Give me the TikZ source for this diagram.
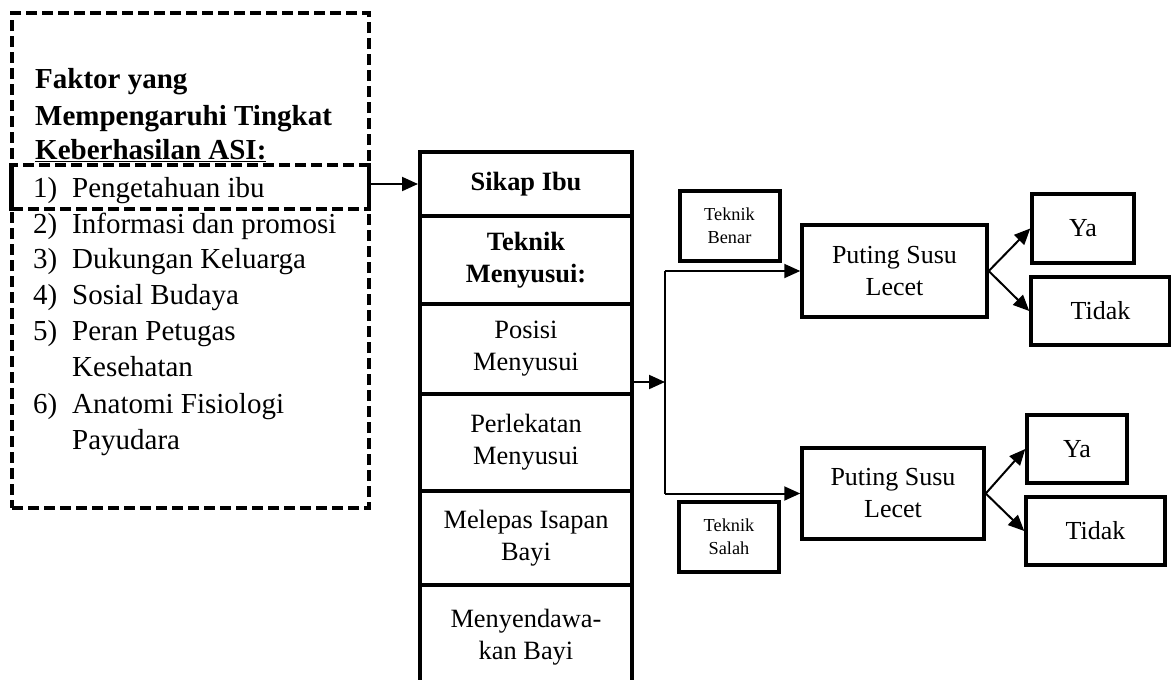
\documentclass[tikz,border=0pt]{standalone}
\usepackage{fontspec}
\setmainfont{Liberation Serif}
\usetikzlibrary{arrows.meta}
\begin{document}
\begin{tikzpicture}[x=1pt,y=-1pt,
  lt/.style={anchor=base west, inner sep=0pt, font=\fontsize{29}{36}\selectfont},
  ltb/.style={anchor=base west, inner sep=0pt, font=\fontsize{29}{36}\selectfont\bfseries},
  colbox/.style={draw, line width=4pt, minimum width=212pt, inner sep=0pt, align=center, font=\fontsize{26.4}{32}\selectfont},
  colboxb/.style={colbox, font=\fontsize{26.4}{32}\selectfont\bfseries},
  coltext/.style={inner sep=0pt, align=center, font=\fontsize{26.4}{32}\selectfont},
  rbox/.style={draw, line width=3.5pt, inner sep=0pt, align=center, font=\fontsize{26}{32}\selectfont},
  sbox/.style={draw, line width=4pt, inner sep=0pt, align=center, font=\fontsize{18.3}{23}\selectfont, minimum width=100pt, minimum height=70pt},
  dashbox/.style={draw, line width=3.5pt, dash pattern=on 11pt off 5pt},
  arr/.style={line width=2pt, -{Triangle[length=16pt,width=14pt]}},
  ln/.style={line width=2pt}
]
\useasboundingbox (0,0) rectangle (1171,680);
\clip (0,0) rectangle (1171,680);
\fill[white] (0,0) rectangle (1171,680);

% left dashed box
\node[dashbox, minimum width=357pt, minimum height=495pt, inner sep=0pt] (faktor) at (190.5,260.5) {};
\node[dashbox, minimum width=357pt, minimum height=44pt, inner sep=0pt] (pengetahuan) at (190.5,187) {};
\draw[line width=3.5pt] (pengetahuan.north west) -- (pengetahuan.south west);

\node[ltb] (h1) at (35,88) {Faktor yang};
\node[ltb] (h2) at (35,125) {Mempengaruhi Tingkat};
\node[ltb] (h3) at (35,159) {\underline{Keberhasilan ASI:}};

\node[lt] (n1) at (33,197) {1)}; \node[lt] (t1) at (72,197) {Pengetahuan ibu};
\node[lt] (n2) at (33,233) {2)}; \node[lt] (t2) at (72,233) {Informasi dan promosi};
\node[lt] (n3) at (33,268) {3)}; \node[lt] (t3) at (72,268) {Dukungan Keluarga};
\node[lt] (n4) at (33,304) {4)}; \node[lt] (t4) at (72,304) {Sosial Budaya};
\node[lt] (n5) at (33,340) {5)}; \node[lt] (t5) at (72,340) {Peran Petugas};
\node[lt] (t5b) at (72,376) {Kesehatan};
\node[lt] (n6) at (33,413) {6)}; \node[lt] (t6) at (72,413) {Anatomi Fisiologi};
\node[lt] (t6b) at (72,449) {Payudara};

% central column
\node[colboxb, minimum height=64pt] (sikap) at (526,184) {Sikap Ibu};
\node[colboxb, minimum height=88pt] (teknik) at (526,260) {Teknik\\Menyusui:};
\node[colbox, minimum height=90pt] (posisi) at (526,349) {Posisi\\Menyusui};
\node[colbox, minimum height=97pt] (perlekatan) at (526,442.5) {Perlekatan\\Menyusui};
\node[colbox, minimum height=94pt] (melepas) at (526,538) {Melepas Isapan\\Bayi};
\node[colbox, minimum height=115pt] (sendawa) at (526,642.5) {};
\node[coltext] (sendawat) at (526,637) {Menyendawa-\\kan Bayi};

\draw[arr] (pengetahuan.east |- sikap.west) -- (sikap.west);

% right side
\node[rbox, minimum width=185pt, minimum height=92pt] (puting1) at (894.5,271) {Puting Susu\\Lecet};
\node[rbox, minimum width=182pt, minimum height=91pt] (puting2) at (893,493.5) {Puting Susu\\Lecet};
\node[sbox] (benar) at (729.5,226) {Teknik\\Benar};
\node[sbox] (salah) at (729,537) {Teknik\\Salah};
\node[rbox, minimum width=102pt, minimum height=69pt] (ya1) at (1083,228.5) {Ya};
\node[rbox, minimum width=139pt, minimum height=68pt] (tidak1) at (1100.5,311) {Tidak};
\node[rbox, minimum width=100pt, minimum height=68pt] (ya2) at (1077,449) {Ya};
\node[rbox, minimum width=139pt, minimum height=68pt] (tidak2) at (1095.5,531) {Tidak};

\coordinate (split) at (665,382);
\draw[arr] (posisi.east |- split) -- (split);
\draw[ln] (split |- puting1.west) -- (split |- puting2.west);
\draw[arr] (split |- puting1.west) -- (puting1.west);
\draw[arr] (split |- puting2.west) -- (puting2.west);

\draw[arr] (puting1.east) -- (ya1.west);
\draw[arr] (puting1.east) -- (tidak1.west);
\draw[arr] (puting2.east) -- (ya2.west);
\draw[arr] (puting2.east) -- (tidak2.west);
\end{tikzpicture}
\end{document}
